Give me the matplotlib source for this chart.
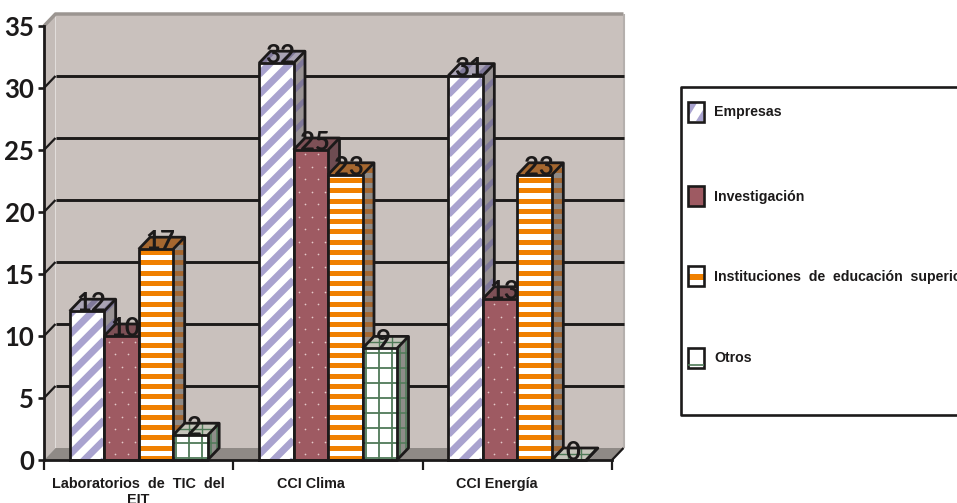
import numpy as np
import matplotlib
matplotlib.use("Agg")
import matplotlib.pyplot as plt
from matplotlib.patches import Rectangle

categories = ["Laboratorios  de  TIC  del\nEIT", "CCI Clima", "CCI Energía"]
series_names = ["Empresas", "Investigación", "Instituciones de educación superior", "Otros"]
empresas = [12, 32, 31]
investigacion = [10, 25, 13]
instituciones = [17, 23, 23]
otros = [2, 9, 0]
y_ticks = [0, 5, 10, 15, 20, 25, 30, 35]

NUM_FONT = "Lato"
BOLD = "Liberation Sans"
INK = "#1c1a1a"

# pixel scale of the plot, the 3d look is all done with these
PX_X = 568 / 3
PX_Y = 434 / 35
DX = 11.5 / PX_X
DY = 12 / PX_Y
W = 34.5 / PX_X

plt.rcParams["lines.solid_capstyle"] = "butt"

fig = plt.figure(figsize=(9.57, 5.03), dpi=100, facecolor="white")
ax = fig.add_axes([44 / 957, 43 / 503, 568 / 957, 434 / 503])
ax.set_xlim(0, 3)
ax.set_ylim(0, 35)
ax.patch.set_visible(False)


def poly(xs, ys, color, z, **kw):
    return ax.fill(xs, ys, facecolor=color, edgecolor=kw.pop("edge", "none"), zorder=z,
                   clip_on=False, **kw)[0]


def clipped_lines(clip, segs, color, lw, z):
    for (x0, y0, x1, y1) in segs:
        ln, = ax.plot([x0, x1], [y0, y1], color=color, lw=lw, zorder=z, solid_capstyle="butt")
        ln.set_clip_path(clip)


def diag(x0, x1, top, step_px=20):
    # stripes rising to the right
    span = (x1 - x0) * PX_X
    return [(x0, o / PX_Y, x1, (o + span) / PX_Y)
            for o in np.arange(-span - step_px, top * PX_Y + 2 * step_px, step_px)]


def horiz(x0, x1, top, step_px=10.3):
    return [(x0, y, x1, y) for y in np.arange(2 / PX_Y, top + DY + 1, step_px / PX_Y)]


def vert(x0, x1, top, step_px=13):
    return [(x, 0, x, top + DY + 1) for x in np.arange(x0 + 3 / PX_X, x1, step_px / PX_X)]


# walls and floor
poly([0, DX, DX, 0], [0, DY, 35 + DY, 35], "#c4bcb8", 0)
poly([DX, 3 + DX, 3 + DX, DX], [DY, DY, 35 + DY, 35 + DY], "#c9c1bd", 0)
poly([0, DX, 3 + DX, 3], [0, DY, DY, 0], "#8f8a86", 1)
ax.plot([0, DX, 3 + DX], [35, 35 + DY, 35 + DY], color="#9b9591", lw=2.5, zorder=1, clip_on=False)
ax.plot([3 + DX, 3 + DX], [DY, 35 + DY], color="#b5b0ad", lw=1.5, zorder=1, clip_on=False)
for v in y_ticks[1:-1]:
    ax.plot([DX, 3 + DX], [v + DY, v + DY], color=INK, lw=2.1, zorder=2, clip_on=False)
    ax.plot([0, DX], [v, v + DY], color=INK, lw=1.6, zorder=2, clip_on=False)
ax.plot([3, 3 + DX], [0, DY], color=INK, lw=1.6, zorder=2, clip_on=False)

styles = [
    {"side": "#9a9494", "top": "#a9a3b4", "mark": "#7f7899"},
    {"side": "#6e4c52", "top": "#7d5056", "mark": None},
    {"side": "#8f8a86", "top": "#a5672f", "mark": "#a5672f"},
    {"side": "#8e8d89", "top": "#c4c4ba", "mark": "#4f7a58"},
]
values = [empresas, investigacion, instituciones, otros]

z = 3
for i in range(len(categories)):
    for j, vals in enumerate(values):
        v = vals[i]
        st = styles[j]
        x0 = i + 0.5 - 2 * W + j * W
        x1 = x0 + W
        face = "#9e5a62" if j == 1 else "white"

        # side and top faces
        side = poly([x1, x1 + DX, x1 + DX, x1], [0, DY, v + DY, v], st["side"], z)
        top = poly([x0, x1, x1 + DX, x0 + DX], [v, v, v + DY, v + DY], st["top"], z)
        if j == 0:
            clipped_lines(side, diag(x1, x1 + DX, v, 20), st["mark"], 3.5, z)
            clipped_lines(top, diag(x0, x1 + DX, v + DY, 20)[-6:], st["mark"], 3.5, z)
        elif j == 2:
            clipped_lines(side, horiz(x1, x1 + DX, v), st["mark"], 3.5, z)
        elif j == 3:
            clipped_lines(side, horiz(x1, x1 + DX, v, 15), st["mark"], 1.1, z)
            clipped_lines(side, vert(x1, x1 + DX, v, 6), st["mark"], 1.1, z)
            clipped_lines(top, vert(x0, x1 + DX, v), st["mark"], 1, z)
            clipped_lines(top, [(x0, v + DY / 2, x1 + DX, v + DY / 2)], st["mark"], 1, z)

        # front face
        bar = ax.bar(x0, v, width=W, align="edge", color=face, edgecolor="none", zorder=z)[0]
        if j == 0:
            clipped_lines(bar, diag(x0, x1, v), "#a9a3cf", 5, z)
        elif j == 1:
            xs, ys = [], []
            for row, y in enumerate(np.arange(6 / PX_Y, v, 12.5 / PX_Y)):
                for x in np.arange(x0 + (5 if row % 2 else 11) / PX_X, x1, 13 / PX_X):
                    xs.append(x)
                    ys.append(y)
            ax.scatter(xs, ys, s=1.5, color="#e3c9c9", linewidths=0, zorder=z)
        elif j == 2:
            clipped_lines(bar, horiz(x0, x1, v), "#f08000", 3.6, z)
        elif j == 3:
            clipped_lines(bar, horiz(x0, x1, v, 15), st["mark"], 1.3, z)
            clipped_lines(bar, vert(x0, x1, v), st["mark"], 1.3, z)

        ax.text((x0 + x1) / 2 + 4 / PX_X, v, str(v), ha="center", va="baseline",
                fontsize=18.5, family=NUM_FONT, fontweight="bold", color=INK, zorder=z)

        # outlines go over the number, like the original
        lw = 2.0
        ax.plot([x0, x0, x1, x1, x0], [0, v, v, 0, 0], color=INK, lw=lw, zorder=z, clip_on=False,
                solid_capstyle="projecting")
        ax.plot([x0, x0 + DX, x1 + DX, x1 + DX, x1], [v, v + DY, v + DY, DY, 0],
                color=INK, lw=lw, zorder=z, clip_on=False)
        ax.plot([x1, x1 + DX], [v, v + DY], color=INK, lw=lw, zorder=z, clip_on=False)
        z += 1

# axes lines and ticks
for s in ["top", "right"]:
    ax.spines[s].set_visible(False)
for s in ["left", "bottom"]:
    ax.spines[s].set_linewidth(2.0)
    ax.spines[s].set_color(INK)
    ax.spines[s].set_zorder(z + 1)

ax.set_yticks(y_ticks)
ax.set_yticklabels([str(v) for v in y_ticks], family=NUM_FONT, fontweight="bold", fontsize=18.5,
                   color=INK)
ax.tick_params(axis="y", length=4, width=1.9, color=INK, pad=3)
ax.set_xticks([0, 1, 2, 3])
ax.set_xticklabels([])
ax.tick_params(axis="x", which="major", length=7, width=1.6, color=INK)
ax.set_xticks([0.5, 1.41, 2.39], minor=True)
ax.set_xticklabels(categories, minor=True, family=BOLD, fontweight="bold", fontsize=10.4,
                   color=INK, linespacing=1.25)
ax.tick_params(axis="x", which="minor", length=0, pad=12)

# legend, kept in pixel coordinates because the box runs off the right edge
lax = fig.add_axes([0, 0, 1, 1])
lax.set_xlim(0, 957)
lax.set_ylim(503, 0)
lax.axis("off")
lax.patch.set_visible(False)
lax.plot([960, 681, 681, 960], [87, 87, 415, 415], color=INK, lw=1.9)
swatch_y = [102, 186, 266, 348]
text_y = [112, 197, 277, 358]
for name, sy, ty, k in zip(series_names, swatch_y, text_y, range(4)):
    r = Rectangle((688, sy), 16, 20, facecolor="#9e5a62" if k == 1 else "white", edgecolor="none")
    lax.add_patch(r)
    if k == 0:
        lax.fill([689, 697, 689], [sy + 14, sy + 1, sy + 1], color="#a9a3cf", lw=0)
        lax.fill([703, 696, 703], [sy + 8, sy + 19, sy + 19], color="#a9a3cf", lw=0)
    elif k == 2:
        lax.add_patch(Rectangle((688, sy + 8), 16, 6, facecolor="#f08000", edgecolor="none"))
    elif k == 3:
        lax.plot([688, 704], [sy + 17, sy + 17], color="#4f7a58", lw=1.2)
    lax.add_patch(Rectangle((688, sy), 16, 20, facecolor="none", edgecolor=INK, lw=1.9))
    label = name.replace(" ", "  ") if k == 2 else name
    lax.text(714, ty, label, va="center", ha="left", family=BOLD, fontweight="bold",
             fontsize=10.2, color=INK, clip_on=True)

fig.savefig("out.png", dpi=100)
